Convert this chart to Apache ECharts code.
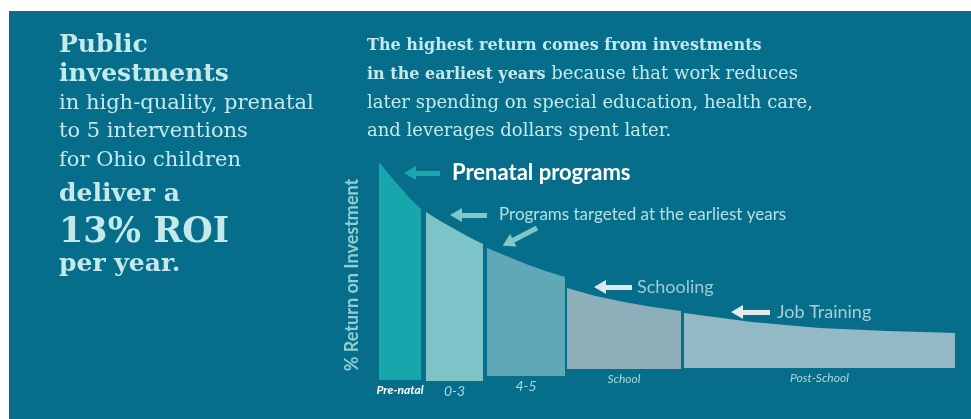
<!DOCTYPE html>
<html>
<head>
<meta charset="utf-8">
<title>Public investments ROI</title>
<script src="https://cdn.jsdelivr.net/npm/echarts/dist/echarts.min.js"></script>
<style>
  html, body { margin: 0; padding: 0; background: #ffffff; }
  #chart { position: absolute; left: 9px; top: 11px; width: 962px; height: 408px; }
</style>
</head>
<body>
<div id="chart"></div>
<script>
// bars of the ROI curve (x = position along the life span, y = relative return)
var categories = ['Pre-natal', '0-3', '4-5', 'School', 'Post-School'];
var barStart = [0, 47, 108, 188, 305];
var barEnd = [42, 104, 186, 302, 576];
var barBase = [20, 19, 24, 31, 32];
// top of each bar, read at 0, 1/4, 1/2, 3/4 and the end of its width
var barTop = [
  [238, 225, 213, 201, 191],
  [188, 179, 171, 163, 156],
  [152, 144, 136, 129, 123],
  [112, 104, 98, 93, 89],
  [87, 78, 72, 69, 67]
];
// arrows: [tailX, tailY, headX, headY] and their texts
var arrowLines = [
  [61, 227, 31, 227],
  [108, 185, 77, 185],
  [158, 172, 129, 157],
  [253, 113, 221, 113],
  [391, 88, 358, 88]
];
var arrowTexts = ['Prenatal programs', 'Programs targeted at the earliest years', '', 'Schooling', 'Job Training'];

var barColors = ['#17a6ab', '#7cc4c7', '#5fa8b6', '#8cafba', '#93b9c4'];
var arrowColors = ['#17a9ad', '#7fc7c9', '#7fc7c9', '#dfe7ea', '#e4ebed'];
var arrowLabelStyles = [
  { color: '#ffffff', fontSize: 22, fontWeight: 'bold', distance: 12 },
  { color: '#b3e0e3', fontSize: 17, fontWeight: 'normal', distance: 12 },
  { color: '#b3e0e3', fontSize: 17, fontWeight: 'normal', distance: 5 },
  { color: '#9ecbd3', fontSize: 18, fontWeight: 'normal', distance: 5 },
  { color: '#a7cdd5', fontSize: 18, fontWeight: 'normal', distance: 7 }
];

var serif = 'DejaVu Serif';
var sans = 'Lato';
var textColor = '#c4e9eb';

var myChart = echarts.init(document.getElementById('chart'));

function renderBar(params, api) {
  var i = params.dataIndex;
  var x0 = api.value(0), x1 = api.value(1), base = api.value(2);
  var tops = barTop[i];
  var pts = [api.coord([x0, base])];
  for (var k = 0; k < tops.length; k++) {
    pts.push(api.coord([x0 + (x1 - x0) * k / (tops.length - 1), tops[k]]));
  }
  pts.push(api.coord([x1, base]));
  var mid = api.coord([(x0 + x1) / 2, base]);
  var first = i === 0;
  var big = i === 1 || i === 2;
  return {
    type: 'group',
    children: [
      { type: 'polygon', shape: { points: pts }, style: { fill: barColors[i] } },
      {
        type: 'text', x: mid[0], y: mid[1] + 10,
        style: {
          text: categories[i], align: 'center', verticalAlign: 'middle',
          fill: first ? '#ffffff' : '#a9d8dc',
          font: (first ? 'italic bold 12px ' : (big ? 'italic 14px ' : 'italic 12px ')) + sans
        }
      }
    ]
  };
}

function leftText(txt, y, size, bold) {
  return {
    type: 'text', left: 50, top: y,
    style: { text: txt, fill: textColor, font: (bold ? 'bold ' : '') + size + 'px "' + serif + '"' }
  };
}

var option = {
  backgroundColor: '#066e8a',
  animation: false,
  grid: { left: 370, right: 16, top: 139, bottom: 19 },
  xAxis: { type: 'value', min: 0, max: 576, show: false },
  yAxis: {
    type: 'value', min: 0, max: 250,
    axisLine: { show: false }, axisTick: { show: false }, axisLabel: { show: false }, splitLine: { show: false },
    name: '% Return on Investment', nameLocation: 'middle', nameGap: 18,
    nameTextStyle: { color: '#8fcfd3', fontSize: 18, fontWeight: 'bold', fontFamily: sans }
  },
  graphic: [
    leftText('Public', 22, 25, true),
    leftText('investments', 51, 25, true),
    leftText('in high-quality, prenatal', 82, 21, false),
    leftText('to 5 interventions', 110, 21, false),
    leftText('for Ohio children', 139, 21, false),
    leftText('deliver a', 171, 25, true),
    leftText('13% ROI', 204, 35, true),
    leftText('per year.', 241, 25, true),
    {
      type: 'text', left: 358, top: 21,
      style: {
        text: '{b|The highest return comes from investments}\n{b|in the earliest years} because that work reduces\nlater spending on special education, health care,\nand leverages dollars spent later.',
        fill: textColor, font: '18px "' + serif + '"', lineHeight: 28.5,
        rich: { b: { fontWeight: 'bold', fontSize: 16, fontFamily: serif, fill: textColor, lineHeight: 28.5 } }
      }
    }
  ],
  series: [{
    type: 'custom',
    renderItem: renderBar,
    encode: { x: [0, 1], y: 2 },
    data: categories.map(function (c, i) { return [barStart[i], barEnd[i], barBase[i]]; }),
    markLine: {
      silent: true,
      symbol: ['none', 'triangle'],
      symbolSize: [14, 12],
      data: arrowLines.map(function (a, i) {
        var st = arrowLabelStyles[i];
        return [
          {
            coord: [a[0], a[1]],
            lineStyle: { color: arrowColors[i], width: 5, type: 'solid' },
            itemStyle: { color: arrowColors[i] },
            label: {
              show: !!arrowTexts[i], position: 'start', formatter: arrowTexts[i],
              color: st.color, fontSize: st.fontSize, fontWeight: st.fontWeight, fontFamily: sans,
              distance: st.distance
            }
          },
          { coord: [a[2], a[3]] }
        ];
      })
    }
  }]
};

window.onresize = myChart.resize;
myChart.setOption(option);
</script>
</body>
</html>
